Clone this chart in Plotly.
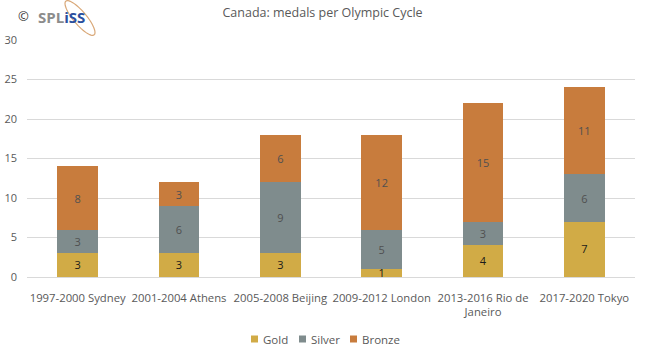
import math
import plotly.graph_objects as go

categories = ["1997-2000 Sydney", "2001-2004 Athens", "2005-2008 Beijing",
              "2009-2012 London", "2013-2016 Rio de<br>Janeiro", "2017-2020 Tokyo"]
gold = [3, 3, 3, 1, 4, 7]
silver = [3, 6, 9, 5, 3, 6]
bronze = [8, 3, 6, 12, 15, 11]
y_ticks = [0, 5, 10, 15, 20, 25, 30]

FONT = "Open Sans"
GRAY = "#595959"
W, H = 649, 350
L, R, T, B = 27, 14, 40, 73
PW, PH = W - L - R, H - T - B

series = [
    ("Gold", gold, "#D1AB46", "#1a1a1a", 12.5),
    ("Silver", silver, "#7F8C8D", "#505050", 11),
    ("Bronze", bronze, "#C87C3D", "#505050", 11),
]

fig = go.Figure()
for name, vals, color, tcolor, tsize in series:
    fig.add_trace(go.Bar(
        name=name, x=categories, y=vals, showlegend=False,
        marker=dict(color=color, line=dict(width=0)),
        text=[str(v) for v in vals], textposition="inside",
        insidetextanchor="middle", textangle=0,
        textfont=dict(family=FONT, size=tsize, color=tcolor),
    ))

fig.update_layout(
    barmode="stack", bargap=0.6,
    width=W, height=H,
    margin=dict(l=L, r=R, t=T, b=B, autoexpand=False),
    paper_bgcolor="white", plot_bgcolor="white",
    font=dict(family=FONT, size=11, color=GRAY),
    uniformtext=dict(mode="show", minsize=8),
    title=dict(text="Canada: medals per Olympic Cycle", x=0.497, xanchor="center",
               y=1 - 13 / H, yanchor="middle",
               font=dict(family=FONT, size=12.5, color=GRAY)),
    xaxis=dict(showgrid=False, showline=True, linecolor="#D9D9D9", ticks="",
               tickfont=dict(family=FONT, size=11.3, color=GRAY),
               ticklabelstandoff=10),
    yaxis=dict(range=[0, 30], tickvals=y_ticks, showgrid=True, gridcolor="#D9D9D9",
               zeroline=False, ticks="", tickfont=dict(family=FONT, size=11, color=GRAY),
               ticklabelstandoff=9),
)


def px(x):
    return (x - L) / PW


def py(y):
    return (H - B - y) / PH


# Legend drawn as coloured squares followed by the series names
for (name, _, color, _, _), sx in zip(series, [251, 299, 350]):
    fig.add_shape(type="rect", xref="paper", yref="paper",
                  x0=px(sx), x1=px(sx + 7), y0=py(342.5), y1=py(335.5),
                  fillcolor=color, line=dict(width=0))
    fig.add_annotation(text=name, xref="paper", yref="paper",
                       x=px(sx + 10), y=py(339), xanchor="left", yanchor="middle",
                       showarrow=False, font=dict(family=FONT, size=11.5, color=GRAY))

# SPLiSS logo mark in the top-left corner: tilted orbit ring plus lettering
cx, cy, a, b, ang = 80, 18, 22, 6.5, math.radians(50)
pts = []
for i in range(61):
    t = 2 * math.pi * i / 60
    ex, ey = a * math.cos(t), b * math.sin(t)
    xx = cx + ex * math.cos(ang) - ey * math.sin(ang)
    yy = cy + ex * math.sin(ang) + ey * math.cos(ang)
    pts.append(f"{px(xx):.5f},{py(yy):.5f}")
fig.add_shape(type="path", xref="paper", yref="paper",
              path="M" + " L".join(pts) + " Z",
              line=dict(color="#D9A878", width=1.2))
fig.add_annotation(text="©", xref="paper", yref="paper", x=px(23), y=py(16),
                   xanchor="center", yanchor="middle",
                   showarrow=False, font=dict(family=FONT, size=13, color="#333333"))
fig.add_annotation(
    text="<b><span style='color:#8C8C8C'>SPL</span><span style='color:#2A4F9E'>iSS</span></b>",
    xref="paper", yref="paper", x=px(36), y=py(17.5), xanchor="left", yanchor="middle",
    showarrow=False, font=dict(family="Open Sans", size=15))

fig.write_html("out.html")
